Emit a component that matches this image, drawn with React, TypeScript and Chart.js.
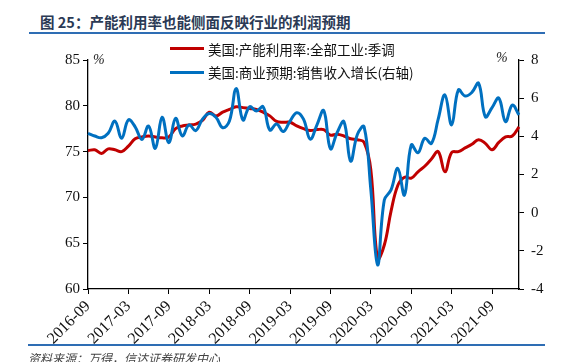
import React, { useEffect, useRef } from 'react';
import { Chart, registerables } from 'chart.js';

Chart.register(...registerables);

const months = [
  '2016-09', '2016-10', '2016-11', '2016-12',
  '2017-01', '2017-02', '2017-03', '2017-04', '2017-05', '2017-06', '2017-07', '2017-08', '2017-09', '2017-10', '2017-11', '2017-12',
  '2018-01', '2018-02', '2018-03', '2018-04', '2018-05', '2018-06', '2018-07', '2018-08', '2018-09', '2018-10', '2018-11', '2018-12',
  '2019-01', '2019-02', '2019-03', '2019-04', '2019-05', '2019-06', '2019-07', '2019-08', '2019-09', '2019-10', '2019-11', '2019-12',
  '2020-01', '2020-02', '2020-03', '2020-04', '2020-05', '2020-06', '2020-07', '2020-08', '2020-09', '2020-10', '2020-11', '2020-12',
  '2021-01', '2021-02', '2021-03', '2021-04', '2021-05', '2021-06', '2021-07', '2021-08', '2021-09', '2021-10', '2021-11', '2021-12',
  '2022-01',
];

// 美国:产能利用率:全部工业:季调 (left axis, %)
const capacityUtil = [
  75.1, 75.2, 74.8, 75.3,
  75.2, 75.0, 75.6, 76.4, 76.6, 76.7, 76.6, 76.5, 76.6, 77.5, 77.8, 77.9,
  78.0, 78.4, 79.3, 78.9, 79.3, 79.6, 79.9, 79.8, 79.7, 79.6, 79.3, 78.9,
  78.3, 78.2, 78.2, 77.8, 77.5, 77.3, 77.4, 77.4, 76.8, 76.9, 76.7, 76.4,
  76.3, 76.0, 73.0, 63.3, 64.8, 68.5, 71.3, 72.2, 72.1, 72.8, 73.4, 74.2,
  75.0, 72.8, 74.9, 75.0, 75.4, 75.8, 76.3, 75.9, 75.2, 76.0, 76.6, 76.7,
  77.7,
];

// 美国:商业预期:销售收入增长 (right axis, %)
const salesExpect = [
  4.16, 4.02, 3.93, 4.16,
  4.8, 3.9, 4.86, 4.5, 3.84, 4.54, 3.37, 5.0, 3.67, 4.94, 4.02, 4.6,
  4.3, 4.9, 5.2, 5.0, 4.45, 4.8, 6.5, 4.86, 5.55, 5.33, 5.55, 4.33,
  4.65, 4.25, 4.8, 5.24, 4.9, 3.85, 4.6, 5.35, 3.35, 4.2, 4.77, 2.7,
  4.1, 4.5, 1.2, -2.74, 0.66, 1.19, 2.32, 0.92, 3.55, 3.14, 3.9, 3.63,
  4.9, 6.17, 4.6, 6.43, 6.11, 6.3, 6.78, 5.03, 5.5, 6.0, 4.77, 5.64,
  5.12,
];

const seriesNames = ['美国:产能利用率:全部工业:季调', '美国:商业预期:销售收入增长(右轴)'];
const titleText = '图 25：产能利用率也能侧面反映行业的利润预期';
const sourceText = '资料来源：万得，信达证券研发中心';

const RED = '#C00000';
const BLUE = '#0070C0';
const serif = '"Liberation Serif", "Times New Roman", serif';
const tickFont = { family: serif, size: 15 };
const xTickFont = { family: serif, size: 16 };

export default function App() {
  const ref = useRef<HTMLCanvasElement>(null);

  useEffect(() => {
    const chart = new Chart(ref.current as HTMLCanvasElement, {
      type: 'line',
      data: {
        labels: months,
        datasets: [
          {
            label: seriesNames[0],
            data: capacityUtil,
            borderColor: RED,
            backgroundColor: RED,
            borderWidth: 3,
            pointRadius: 0,
            tension: 0.4,
            yAxisID: 'y',
            order: 1,
          },
          {
            label: seriesNames[1],
            data: salesExpect,
            borderColor: BLUE,
            backgroundColor: BLUE,
            borderWidth: 3,
            pointRadius: 0,
            tension: 0.4,
            yAxisID: 'y1',
            order: 0,
          },
        ],
      },
      options: {
        responsive: false,
        animation: false,
        devicePixelRatio: 1,
        layout: { padding: { top: 60, left: 0, right: 0, bottom: 0 } },
        plugins: { legend: { display: false }, tooltip: { enabled: false } },
        scales: {
          x: {
            type: 'category',
            offset: false,
            grid: { drawOnChartArea: false, drawTicks: true, tickLength: 5, color: '#000', lineWidth: 1 },
            border: { display: true, color: '#000', width: 1.3 },
            ticks: {
              autoSkip: false,
              minRotation: 45,
              maxRotation: 45,
              padding: 3,
              color: '#111',
              font: xTickFont,
            },
            afterBuildTicks: (s: any) => {
              s.ticks = s.ticks.filter((t: any) => t.value % 6 === 0);
            },
            afterFit: (s: any) => {
              s.height = 73;
            },
          },
          y: {
            position: 'left',
            min: 60,
            max: 85,
            grid: { drawOnChartArea: false, drawTicks: true, tickLength: 5, color: '#000', lineWidth: 1 },
            border: { display: true, color: '#000', width: 1.3 },
            ticks: { stepSize: 5, padding: 3, color: '#111', font: tickFont },
            afterFit: (s: any) => {
              s.width = 88;
            },
          },
          y1: {
            position: 'right',
            min: -4,
            max: 8,
            grid: { drawOnChartArea: false, drawTicks: true, tickLength: 5, color: '#000', lineWidth: 1 },
            border: { display: true, color: '#000', width: 1.3 },
            ticks: { stepSize: 2, padding: 7, color: '#111', font: tickFont },
            afterFit: (s: any) => {
              s.width = 53;
            },
          },
        },
      },
    });
    return () => chart.destroy();
  }, []);

  const cjk = '"Noto Sans CJK SC", "Noto Sans", sans-serif';

  return (
    <div style={{ position: 'fixed', left: 0, top: 0, width: 572, height: 362, background: '#fff', overflow: 'hidden' }}>
      <div
        style={{
          position: 'absolute', left: 40, top: 12, fontFamily: cjk, fontWeight: 700, fontSize: 14.5,
          color: '#2b3a55', whiteSpace: 'nowrap', lineHeight: '20px',
        }}
      >
        {titleText}
      </div>
      <div style={{ position: 'absolute', left: 29, top: 32, width: 516, height: 2, background: '#2E6DB4' }} />
      <canvas ref={ref} width={572} height={362} style={{ position: 'absolute', left: 0, top: 0, width: 572, height: 362 }} />
      <div style={{ position: 'absolute', left: 93, top: 52, fontFamily: serif, fontStyle: 'italic', fontSize: 14, color: '#222' }}>%</div>
      <div style={{ position: 'absolute', left: 496, top: 50, fontFamily: serif, fontStyle: 'italic', fontSize: 14, color: '#222' }}>%</div>
      <div style={{ position: 'absolute', left: 170, top: 47, width: 34, height: 3, background: RED }} />
      <div style={{ position: 'absolute', left: 208, top: 39, fontFamily: cjk, fontSize: 13.5, color: '#111', whiteSpace: 'nowrap', lineHeight: '20px' }}>{seriesNames[0]}</div>
      <div style={{ position: 'absolute', left: 170, top: 71, width: 34, height: 3, background: BLUE }} />
      <div style={{ position: 'absolute', left: 208, top: 62, fontFamily: cjk, fontSize: 13.5, color: '#111', whiteSpace: 'nowrap', lineHeight: '20px' }}>{seriesNames[1]}</div>
      <div style={{ position: 'absolute', left: 28, top: 344, width: 517, height: 2, background: '#2E6DB4' }} />
      <div style={{ position: 'absolute', left: 28, top: 350, fontFamily: cjk, fontStyle: 'italic', fontSize: 12, color: '#444', whiteSpace: 'nowrap', lineHeight: '16px' }}>{sourceText}</div>
    </div>
  );
}
